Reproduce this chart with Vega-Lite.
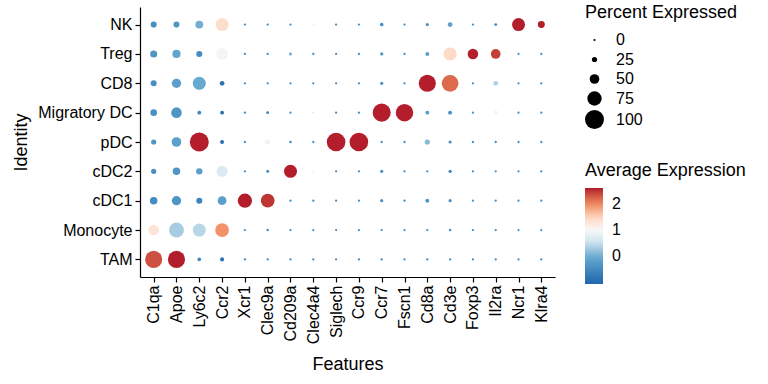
{
  "$schema": "https://vega.github.io/schema/vega-lite/v6.json",
  "width": 415,
  "height": 270,
  "autosize": "none",
  "padding": {"left": 140, "top": 7, "right": 213, "bottom": 107},
  "config": {
    "font": "Liberation Sans",
    "view": {"stroke": null},
    "axis": {
      "domainColor": "black", "domainWidth": 1.2, "tickColor": "black", "tickSize": 5, "tickWidth": 1.2,
      "labelColor": "black", "labelFontSize": 16, "titleFontSize": 18, "titleFontWeight": "normal",
      "titleColor": "black", "grid": false, "labelPadding": 3
    },
    "legend": {
      "titleFontSize": 18, "titleFontWeight": "normal", "titleColor": "black",
      "labelFontSize": 16, "labelColor": "black", "padding": 0
    }
  },
  "data": {"values": [
    {"f":"C1qa","id":"NK","pct":30,"avg":-0.45},{"f":"Apoe","id":"NK","pct":30,"avg":-0.35},{"f":"Ly6c2","id":"NK","pct":40,"avg":0.0},{"f":"Ccr2","id":"NK","pct":68,"avg":1.4},{"f":"Xcr1","id":"NK","pct":2,"avg":-0.5},{"f":"Clec9a","id":"NK","pct":2,"avg":-0.5},{"f":"Cd209a","id":"NK","pct":2,"avg":-0.5},{"f":"Clec4a4","id":"NK","pct":0,"avg":0.9},{"f":"Siglech","id":"NK","pct":2,"avg":-0.5},{"f":"Ccr9","id":"NK","pct":2,"avg":-0.5},{"f":"Ccr7","id":"NK","pct":15,"avg":-0.45},{"f":"Fscn1","id":"NK","pct":3,"avg":-0.5},{"f":"Cd8a","id":"NK","pct":12,"avg":-0.45},{"f":"Cd3e","id":"NK","pct":22,"avg":-0.2},{"f":"Foxp3","id":"NK","pct":3,"avg":-0.5},{"f":"Il2ra","id":"NK","pct":10,"avg":-0.45},{"f":"Ncr1","id":"NK","pct":68,"avg":2.6},{"f":"Klra4","id":"NK","pct":35,"avg":2.6},
    {"f":"C1qa","id":"Treg","pct":36,"avg":-0.35},{"f":"Apoe","id":"Treg","pct":42,"avg":-0.1},{"f":"Ly6c2","id":"Treg","pct":30,"avg":-0.5},{"f":"Ccr2","id":"Treg","pct":62,"avg":0.95},{"f":"Xcr1","id":"Treg","pct":2,"avg":-0.5},{"f":"Clec9a","id":"Treg","pct":3,"avg":-0.5},{"f":"Cd209a","id":"Treg","pct":12,"avg":0.05},{"f":"Clec4a4","id":"Treg","pct":2,"avg":-0.5},{"f":"Siglech","id":"Treg","pct":2,"avg":-0.5},{"f":"Ccr9","id":"Treg","pct":2,"avg":-0.5},{"f":"Ccr7","id":"Treg","pct":13,"avg":-0.35},{"f":"Fscn1","id":"Treg","pct":3,"avg":-0.5},{"f":"Cd8a","id":"Treg","pct":17,"avg":-0.2},{"f":"Cd3e","id":"Treg","pct":68,"avg":1.45},{"f":"Foxp3","id":"Treg","pct":55,"avg":2.6},{"f":"Il2ra","id":"Treg","pct":50,"avg":2.45},{"f":"Ncr1","id":"Treg","pct":2,"avg":-0.5},{"f":"Klra4","id":"Treg","pct":2,"avg":-0.5},
    {"f":"C1qa","id":"CD8","pct":30,"avg":-0.45},{"f":"Apoe","id":"CD8","pct":48,"avg":-0.2},{"f":"Ly6c2","id":"CD8","pct":68,"avg":-0.05},{"f":"Ccr2","id":"CD8","pct":22,"avg":-0.9},{"f":"Xcr1","id":"CD8","pct":2,"avg":-0.5},{"f":"Clec9a","id":"CD8","pct":2,"avg":-0.5},{"f":"Cd209a","id":"CD8","pct":2,"avg":-0.5},{"f":"Clec4a4","id":"CD8","pct":2,"avg":-0.5},{"f":"Siglech","id":"CD8","pct":2,"avg":-0.5},{"f":"Ccr9","id":"CD8","pct":2,"avg":-0.5},{"f":"Ccr7","id":"CD8","pct":12,"avg":-0.45},{"f":"Fscn1","id":"CD8","pct":2,"avg":-0.5},{"f":"Cd8a","id":"CD8","pct":90,"avg":2.6},{"f":"Cd3e","id":"CD8","pct":88,"avg":2.2},{"f":"Foxp3","id":"CD8","pct":2,"avg":-0.5},{"f":"Il2ra","id":"CD8","pct":22,"avg":0.35},{"f":"Ncr1","id":"CD8","pct":2,"avg":-0.5},{"f":"Klra4","id":"CD8","pct":2,"avg":-0.5},
    {"f":"C1qa","id":"Migratory DC","pct":33,"avg":-0.45},{"f":"Apoe","id":"Migratory DC","pct":55,"avg":-0.35},{"f":"Ly6c2","id":"Migratory DC","pct":17,"avg":-0.6},{"f":"Ccr2","id":"Migratory DC","pct":16,"avg":-1.0},{"f":"Xcr1","id":"Migratory DC","pct":3,"avg":-0.5},{"f":"Clec9a","id":"Migratory DC","pct":10,"avg":-0.6},{"f":"Cd209a","id":"Migratory DC","pct":2,"avg":-0.5},{"f":"Clec4a4","id":"Migratory DC","pct":2,"avg":1.3},{"f":"Siglech","id":"Migratory DC","pct":2,"avg":-0.5},{"f":"Ccr9","id":"Migratory DC","pct":3,"avg":-0.5},{"f":"Ccr7","id":"Migratory DC","pct":95,"avg":2.6},{"f":"Fscn1","id":"Migratory DC","pct":92,"avg":2.6},{"f":"Cd8a","id":"Migratory DC","pct":17,"avg":-0.2},{"f":"Cd3e","id":"Migratory DC","pct":17,"avg":-0.45},{"f":"Foxp3","id":"Migratory DC","pct":3,"avg":-0.5},{"f":"Il2ra","id":"Migratory DC","pct":22,"avg":0.95},{"f":"Ncr1","id":"Migratory DC","pct":2,"avg":-0.5},{"f":"Klra4","id":"Migratory DC","pct":2,"avg":-0.5},
    {"f":"C1qa","id":"pDC","pct":25,"avg":-0.35},{"f":"Apoe","id":"pDC","pct":50,"avg":-0.2},{"f":"Ly6c2","id":"pDC","pct":100,"avg":2.6},{"f":"Ccr2","id":"pDC","pct":17,"avg":-1.0},{"f":"Xcr1","id":"pDC","pct":2,"avg":-0.5},{"f":"Clec9a","id":"pDC","pct":25,"avg":0.9},{"f":"Cd209a","id":"pDC","pct":8,"avg":-0.45},{"f":"Clec4a4","id":"pDC","pct":2,"avg":-0.5},{"f":"Siglech","id":"pDC","pct":98,"avg":2.6},{"f":"Ccr9","id":"pDC","pct":98,"avg":2.6},{"f":"Ccr7","id":"pDC","pct":3,"avg":-0.5},{"f":"Fscn1","id":"pDC","pct":3,"avg":-0.5},{"f":"Cd8a","id":"pDC","pct":25,"avg":0.1},{"f":"Cd3e","id":"pDC","pct":12,"avg":-0.45},{"f":"Foxp3","id":"pDC","pct":2,"avg":-0.5},{"f":"Il2ra","id":"pDC","pct":3,"avg":-0.5},{"f":"Ncr1","id":"pDC","pct":2,"avg":-0.5},{"f":"Klra4","id":"pDC","pct":2,"avg":-0.5},
    {"f":"C1qa","id":"cDC2","pct":25,"avg":-0.45},{"f":"Apoe","id":"cDC2","pct":38,"avg":-0.35},{"f":"Ly6c2","id":"cDC2","pct":32,"avg":-0.2},{"f":"Ccr2","id":"cDC2","pct":57,"avg":0.65},{"f":"Xcr1","id":"cDC2","pct":2,"avg":-0.5},{"f":"Clec9a","id":"cDC2","pct":12,"avg":-0.35},{"f":"Cd209a","id":"cDC2","pct":68,"avg":2.6},{"f":"Clec4a4","id":"cDC2","pct":0,"avg":0.9},{"f":"Siglech","id":"cDC2","pct":2,"avg":-0.5},{"f":"Ccr9","id":"cDC2","pct":2,"avg":-0.5},{"f":"Ccr7","id":"cDC2","pct":12,"avg":-0.45},{"f":"Fscn1","id":"cDC2","pct":2,"avg":-0.5},{"f":"Cd8a","id":"cDC2","pct":3,"avg":-0.5},{"f":"Cd3e","id":"cDC2","pct":12,"avg":-0.6},{"f":"Foxp3","id":"cDC2","pct":2,"avg":-0.5},{"f":"Il2ra","id":"cDC2","pct":3,"avg":-0.5},{"f":"Ncr1","id":"cDC2","pct":2,"avg":-0.5},{"f":"Klra4","id":"cDC2","pct":2,"avg":-0.5},
    {"f":"C1qa","id":"cDC1","pct":38,"avg":-0.5},{"f":"Apoe","id":"cDC1","pct":48,"avg":-0.35},{"f":"Ly6c2","id":"cDC1","pct":30,"avg":-0.6},{"f":"Ccr2","id":"cDC1","pct":45,"avg":-0.2},{"f":"Xcr1","id":"cDC1","pct":75,"avg":2.6},{"f":"Clec9a","id":"cDC1","pct":72,"avg":2.5},{"f":"Cd209a","id":"cDC1","pct":3,"avg":-0.5},{"f":"Clec4a4","id":"cDC1","pct":3,"avg":-0.5},{"f":"Siglech","id":"cDC1","pct":2,"avg":-0.5},{"f":"Ccr9","id":"cDC1","pct":2,"avg":-0.5},{"f":"Ccr7","id":"cDC1","pct":12,"avg":-0.45},{"f":"Fscn1","id":"cDC1","pct":3,"avg":-0.5},{"f":"Cd8a","id":"cDC1","pct":17,"avg":-0.35},{"f":"Cd3e","id":"cDC1","pct":12,"avg":-0.45},{"f":"Foxp3","id":"cDC1","pct":3,"avg":-0.5},{"f":"Il2ra","id":"cDC1","pct":3,"avg":-0.5},{"f":"Ncr1","id":"cDC1","pct":2,"avg":-0.5},{"f":"Klra4","id":"cDC1","pct":2,"avg":-0.5},
    {"f":"C1qa","id":"Monocyte","pct":55,"avg":1.3},{"f":"Apoe","id":"Monocyte","pct":78,"avg":0.3},{"f":"Ly6c2","id":"Monocyte","pct":68,"avg":0.4},{"f":"Ccr2","id":"Monocyte","pct":72,"avg":1.95},{"f":"Xcr1","id":"Monocyte","pct":2,"avg":-0.5},{"f":"Clec9a","id":"Monocyte","pct":5,"avg":-0.5},{"f":"Cd209a","id":"Monocyte","pct":3,"avg":-0.5},{"f":"Clec4a4","id":"Monocyte","pct":2,"avg":-0.5},{"f":"Siglech","id":"Monocyte","pct":2,"avg":-0.5},{"f":"Ccr9","id":"Monocyte","pct":3,"avg":-0.5},{"f":"Ccr7","id":"Monocyte","pct":3,"avg":-0.5},{"f":"Fscn1","id":"Monocyte","pct":2,"avg":-0.5},{"f":"Cd8a","id":"Monocyte","pct":3,"avg":-0.5},{"f":"Cd3e","id":"Monocyte","pct":5,"avg":-0.5},{"f":"Foxp3","id":"Monocyte","pct":3,"avg":-0.5},{"f":"Il2ra","id":"Monocyte","pct":2,"avg":-0.5},{"f":"Ncr1","id":"Monocyte","pct":2,"avg":-0.5},{"f":"Klra4","id":"Monocyte","pct":2,"avg":-0.5},
    {"f":"C1qa","id":"TAM","pct":90,"avg":2.35},{"f":"Apoe","id":"TAM","pct":90,"avg":2.6},{"f":"Ly6c2","id":"TAM","pct":15,"avg":-0.6},{"f":"Ccr2","id":"TAM","pct":18,"avg":-0.9},{"f":"Xcr1","id":"TAM","pct":3,"avg":-0.5},{"f":"Clec9a","id":"TAM","pct":3,"avg":-0.5},{"f":"Cd209a","id":"TAM","pct":3,"avg":-0.5},{"f":"Clec4a4","id":"TAM","pct":2,"avg":-0.5},{"f":"Siglech","id":"TAM","pct":2,"avg":-0.5},{"f":"Ccr9","id":"TAM","pct":3,"avg":-0.5},{"f":"Ccr7","id":"TAM","pct":3,"avg":-0.5},{"f":"Fscn1","id":"TAM","pct":3,"avg":-0.5},{"f":"Cd8a","id":"TAM","pct":3,"avg":-0.5},{"f":"Cd3e","id":"TAM","pct":3,"avg":-0.5},{"f":"Foxp3","id":"TAM","pct":2,"avg":-0.5},{"f":"Il2ra","id":"TAM","pct":2,"avg":-0.5},{"f":"Ncr1","id":"TAM","pct":2,"avg":-0.5},{"f":"Klra4","id":"TAM","pct":2,"avg":-0.5}
  ]},
  "mark": {"type": "circle", "opacity": 1},
  "encoding": {
    "x": {
      "field": "f", "type": "nominal", "title": "Features",
      "sort": ["C1qa","Apoe","Ly6c2","Ccr2","Xcr1","Clec9a","Cd209a","Clec4a4","Siglech","Ccr9","Ccr7","Fscn1","Cd8a","Cd3e","Foxp3","Il2ra","Ncr1","Klra4"],
      "scale": {"type": "point", "padding": 0.6},
      "axis": {"labelAngle": -90, "labelAlign": "right", "labelBaseline": "middle", "titlePadding": 12}
    },
    "y": {
      "field": "id", "type": "nominal", "title": "Identity",
      "sort": ["NK","Treg","CD8","Migratory DC","pDC","cDC2","cDC1","Monocyte","TAM"],
      "scale": {"type": "point", "padding": 0.6},
      "axis": {"titlePadding": 7}
    },
    "color": {
      "field": "avg", "type": "quantitative", "title": "Average Expression",
      "scale": {
        "domain": [-1.08, -0.05, 0.55, 1.0, 1.45, 2.0, 2.62],
        "range": ["#2166AC", "#67A9CF", "#D1E5F0", "#F7F7F7", "#FDDBC7", "#EF8A62", "#B2182B"]
      },
      "legend": {
        "orient": "none", "legendX": 445, "legendY": 155, "values": [0, 1, 2],
        "gradientLength": 96, "gradientThickness": 18, "gradientStrokeWidth": 0, "titlePadding": 8, "labelOffset": 9
      }
    },
    "size": {
      "field": "pct", "type": "quantitative", "title": "Percent Expressed",
      "scale": {"type": "pow", "exponent": 2, "domain": [0, 100], "range": [5, 361]},
      "legend": {
        "orient": "none", "legendX": 445, "legendY": -3, "values": [0, 25, 50, 75, 100],
        "symbolFillColor": "black", "symbolStrokeWidth": 0, "symbolOpacity": 1, "titlePadding": 10, "rowPadding": 3.5, "labelOffset": 12
      }
    }
  }
}
